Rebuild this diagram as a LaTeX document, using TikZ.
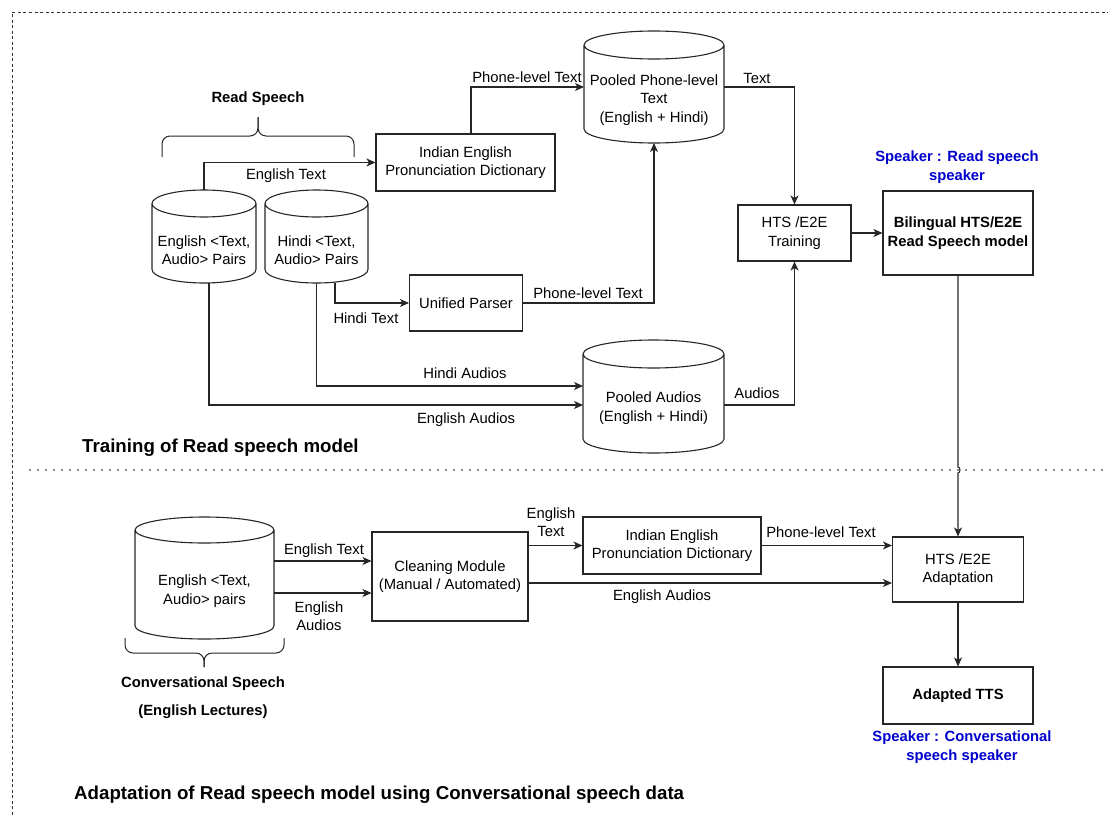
\documentclass[tikz,border=0pt]{standalone}
\usepackage{fontspec}
\setmainfont{Liberation Sans}
\usetikzlibrary{arrows.meta,calc}
\definecolor{spkblue}{RGB}{0,0,204}

% cylinder outline drawn over a named rectangular node: #1 node, #2 half height of the end ellipse (pt)
\newcommand\cylout[2]{%
  \draw[line] let \p1=(#1.north west), \p2=(#1.south east), \n1={(\x2-\x1)/2} in
    (\x1,\y1-#2pt) -- (\x1,\y2+#2pt)
    arc[start angle=180, end angle=360, x radius=\n1, y radius=#2pt]
    -- (\x2,\y1-#2pt)
    (\x1+\n1,\y1-#2pt) ellipse[x radius=\n1, y radius=#2pt];
}

\begin{document}
\begin{tikzpicture}[x=1pt,y=-1pt,
  font=\fontsize{14.8}{18.5}\selectfont,
  line/.style={draw=black!85,line width=1.1pt},
  arr/.style={line,-{Stealth[length=9pt,width=8pt,inset=2.5pt]}},
  box/.style={line, rectangle, inner sep=0pt, align=center},
  bf/.style={font=\fontsize{14.8}{18.5}\selectfont\bfseries, align=center, inner sep=0pt},
  cylbox/.style={rectangle, inner sep=0pt, outer sep=0pt},
  cyltext/.style={align=center, inner sep=0pt},
  lbl/.style={inner sep=0pt, align=center},
  ttl/.style={font=\fontsize{18.7}{22}\selectfont\bfseries, inner sep=0pt, anchor=west},
  spk/.style={text=spkblue, font=\fontsize{14.8}{18.5}\selectfont\bfseries, align=center, inner sep=0pt},
]
\useasboundingbox (0,0) rectangle (1108,814);

% frame and section separator
\draw[black!80, line width=0.8pt, dash pattern=on 3pt off 2.5pt] (12,820) -- (12,12) -- (1115,12);
\draw[black!90, line width=1.7pt, line cap=round, dash pattern=on 0pt off 8pt] (30,470) -- (1108,470);

% ---------- training of the read speech model ----------
\node[bf] (rs) at (258,99) {Read Speech};
\draw[line, line width=1pt, rounded corners=8pt] (162,157) -- (162,136) -- (258,136) -- (258,117);
\draw[line, line width=1pt, rounded corners=8pt] (354,157) -- (354,136) -- (258,136) -- (258,117);

\node[cylbox, minimum width=104pt, minimum height=93pt,
  label={[cyltext,yshift=-13.5pt]center:{English <Text,\\Audio> Pairs}}] (ecyl) at (204,236.5) {};
\node[cylbox, minimum width=103pt, minimum height=93pt,
  label={[cyltext,yshift=-13.5pt]center:{Hindi <Text,\\Audio> Pairs}}] (hcyl) at (316.5,236.5) {};
\node[cylbox, minimum width=140pt, minimum height=112pt,
  label={[cyltext,yshift=-13pt]center:{Pooled Phone-level\\Text\\(English + Hindi)}}] (pphone) at (654,87) {};
\node[cylbox, minimum width=141pt, minimum height=113pt,
  label={[cyltext,yshift=-11.5pt]center:{Pooled Audios\\(English + Hindi)}}] (paud) at (653.5,396.5) {};
\cylout{ecyl}{13.5}
\cylout{hcyl}{13.5}
\cylout{pphone}{14}
\cylout{paud}{14}

\node[box, minimum width=179pt, minimum height=57pt] (dict1) at (465.5,162.5) {Indian English\\Pronunciation Dictionary};
\node[box, minimum width=113pt, minimum height=56pt] (upar) at (466,303) {Unified Parser};
\node[box, minimum width=113pt, minimum height=56pt] (htst) at (794.5,233) {HTS /E2E\\Training};
\node[box, bf, minimum width=150pt, minimum height=84pt] (bil) at (958,233) {Bilingual HTS/E2E\\Read Speech model};
\node[spk] (s1) at (957,167) {Speaker : Read speech\\speaker};

\draw[arr] (ecyl.north) |- (dict1.west);
\draw[arr] ([xshift=5.5pt]dict1.north) |- (pphone.west);
\draw[arr] (pphone.east) -| (htst.north);
\draw[arr] (htst.east) -- (bil.west);
\draw[arr] (paud.east |- 0,405) -| (htst.south);
\draw[arr] (hcyl.south) |- (paud.west |- 0,386);
\draw[arr] (209,0 |- ecyl.south) |- (paud.west |- 0,405);
\draw[arr] (335,0 |- hcyl.south) |- (upar.west);
\draw[arr] (upar.east) -| (pphone.south);

\node[lbl] (l1) at (286,176) {English Text};
\node[lbl] (l2) at (527,77) {Phone-level Text};
\node[lbl] (l3) at (757,78) {Text};
\node[lbl] (l4) at (366,318) {Hindi Text};
\node[lbl] (l5) at (588,293) {Phone-level Text};
\node[lbl] (l6) at (465,373) {Hindi Audios};
\node[lbl] (l7) at (466,420) {English Audios};
\node[lbl] (l8) at (757,393) {Audios};

\node[ttl] (t1) at (82,448) {Training of Read speech model};

% ---------- adaptation with conversational data ----------
\node[cylbox, minimum width=139pt, minimum height=122pt,
  label={[cyltext,yshift=-13pt]center:{English <Text,\\Audio> pairs}}] (ccyl) at (204.5,578) {};
\cylout{ccyl}{13}
\draw[line, line width=1pt, rounded corners=8pt] (125,638) -- (125,653) -- (204,653) -- (204,667);
\draw[line, line width=1pt, rounded corners=8pt] (284,638) -- (284,653) -- (204,653) -- (204,667);
\node[bf] (cs1) at (203,684) {Conversational Speech};
\node[bf] (cs2) at (203,712) {(English Lectures)};

\node[box, minimum width=156pt, minimum height=89pt] (clean) at (450,576.5) {Cleaning Module\\(Manual / Automated)};
\node[box, minimum width=178pt, minimum height=57pt] (dict2) at (672,545.5) {Indian English\\Pronunciation Dictionary};
\node[box, minimum width=131pt, minimum height=65pt] (hadp) at (958,569.5) {HTS /E2E\\Adaptation};
\node[box, bf, minimum width=150pt, minimum height=57pt] (tts) at (958,695.5) {Adapted TTS};
\node[spk] (s2) at (962,747) {Speaker : Conversational\\speech speaker};

\coordinate (hop) at (958,470);
\draw[arr] (bil.south) -- ([yshift=3pt]hop) arc[start angle=90, end angle=-90, x radius=2pt, y radius=3pt] -- (hadp.north);
\draw[arr] (hadp.south) -- (tts.north);
\draw[arr] (ccyl.east |- 0,561) -- (clean.west |- 0,561);
\draw[arr] (ccyl.east |- 0,593) -- (clean.west |- 0,593);
\draw[arr] (clean.east |- dict2.west) -- (dict2.west);
\draw[arr] (dict2.east) -- (hadp.west |- dict2.east);
\draw[arr] (clean.east |- 0,583) -- (hadp.west |- 0,583);

\node[lbl] (m1) at (324,551) {English Text};
\node[lbl] (m2) at (319,616) {English\\Audios};
\node[lbl] (m3) at (551,522) {English\\Text};
\node[lbl] (m4) at (821,532) {Phone-level Text};
\node[lbl] (m5) at (662,597) {English Audios};

\node[ttl] (t2) at (74,795) {Adaptation of Read speech model using Conversational speech data};
\end{tikzpicture}
\end{document}
